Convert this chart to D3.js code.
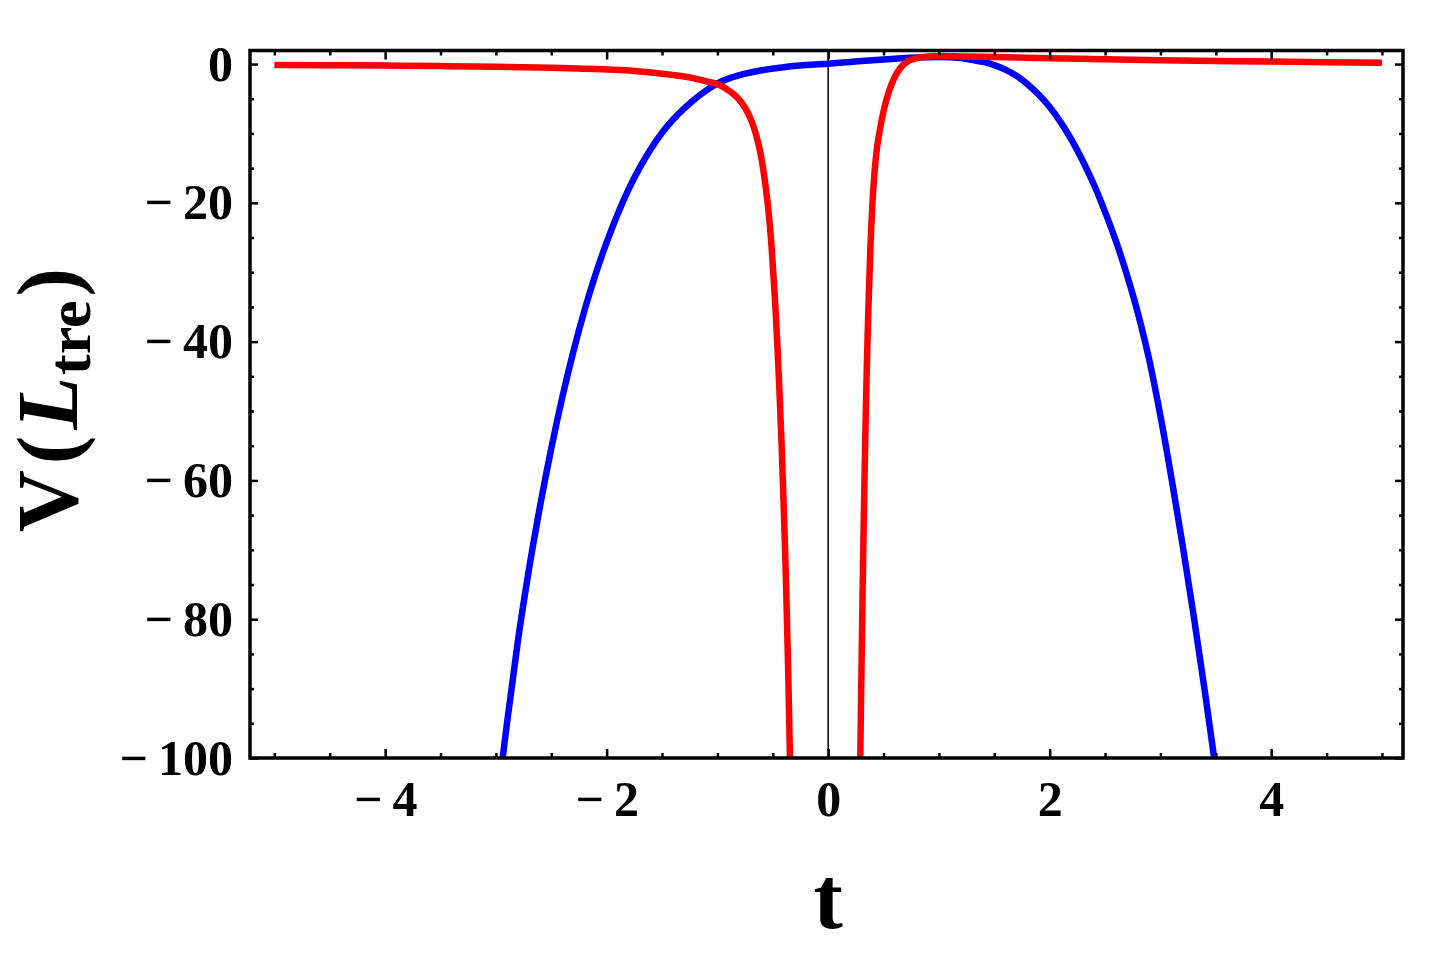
<!DOCTYPE html>
<html>
<head>
<meta charset="utf-8">
<script src="https://cdn.jsdelivr.net/npm/d3@7"></script>
<style>
  body { margin: 0; background: #fff; }
  svg text { font-family: "Liberation Serif", "Times New Roman", serif; font-weight: bold; }
</style>
</head>
<body>
<svg id="chart" width="1433" height="966"></svg>
<script>
document.addEventListener("DOMContentLoaded", function() {

    // Data
    const blueT = [-3.1, -3.0, -2.9, -2.8, -2.7, -2.6, -2.5, -2.4, -2.3, -2.2, -2.1, -2.0, -1.9, -1.8, -1.7, -1.6, -1.5, -1.4, -1.3, -1.2, -1.1, -1.0, -0.9, -0.8, -0.6, -0.4, -0.2,
                   0, 0.2, 0.4, 0.6, 0.8, 1.0, 1.2, 1.3, 1.4, 1.5, 1.6, 1.7, 1.8, 1.9, 2.0, 2.1, 2.2, 2.3, 2.4, 2.5, 2.6, 2.7, 2.8, 2.9, 3.0, 3.1, 3.2, 3.3, 3.4, 3.5, 3.6];
    const blueV = [-121, -108, -95, -83, -72.7, -63.6, -55.4, -48, -41.4, -35.5, -30.3, -25.7, -21.6, -18, -14.9, -12.2, -9.9, -8, -6.4, -5, -3.8, -2.8, -2.1, -1.6, -0.9, -0.45, -0.15,
                   0.05, 0.3, 0.55, 0.75, 0.95, 1.0, 0.85, 0.6, 0.3, -0.15, -0.8, -1.7, -2.9, -4.4, -6.2, -8.4, -11, -14, -17.4, -21.3, -25.6, -30.5, -36.1, -42.7, -50.7, -59.7, -69.3, -79.5, -90.3, -101.7, -114];

    // red curve has a gap at the singularity (null splits it)
    const redT = [-5.0, -4.5, -4.0, -3.5, -3.0, -2.5, -2.0, -1.75, -1.5, -1.3, -1.2, -1.1, -1.0, -0.95, -0.9, -0.85, -0.8, -0.75, -0.7, -0.65, -0.6, -0.57, -0.54, -0.51, -0.48, -0.46, -0.44, -0.42, -0.40, -0.38, -0.36, -0.345, -0.33,
                  null,
                  0.28, 0.29, 0.30, 0.31, 0.32, 0.33, 0.34, 0.35, 0.36, 0.38, 0.40, 0.42, 0.44, 0.47, 0.5, 0.55, 0.6, 0.65, 0.7, 0.8, 0.9, 1.0, 1.2, 1.5, 2.0, 2.5, 3.0, 3.5, 4.0, 4.5, 5.0];
    const redV = [-0.15, -0.18, -0.22, -0.3, -0.4, -0.55, -0.8, -1.0, -1.4, -1.8, -2.1, -2.5, -2.9, -3.3, -3.8, -4.4, -5.2, -6.3, -7.9, -10.2, -13.8, -17, -21, -26.5, -34, -40, -47, -55, -64.5, -75, -88, -100, -115,
                  null,
                  -112, -100, -88, -77, -67, -58, -50, -43, -37, -27, -20, -15.3, -12.2, -9.2, -6.8, -3.9, -1.9, -0.6, 0.2, 0.85, 1.1, 1.15, 1.1, 1.0, 0.85, 0.7, 0.55, 0.45, 0.35, 0.27, 0.2];

    const xMajor = [-4, -2, 0, 2, 4];
    const xMinor = d3.range(-5, 5.01, 0.5).filter(d => !xMajor.includes(d));
    const yMajor = [0, -20, -40, -60, -80, -100];
    const yMinor = d3.range(-95, 1, 5).filter(d => !yMajor.includes(d));

    // Scales
    const svg = d3.select("#chart");
    const x = d3.scaleLinear().domain([-5.22, 5.19]).range([250, 1403]);
    const y = d3.scaleLinear().domain([-100, 1.95]).range([758, 50.5]);

    const fmt = d => d < 0 ? "\u2212\u2009" + Math.abs(d) : String(d);

    svg.append("clipPath").attr("id", "plotClip")
        .append("rect")
        .attr("x", x.range()[0]).attr("y", y.range()[1])
        .attr("width", x.range()[1] - x.range()[0])
        .attr("height", y.range()[0] - y.range()[1]);

    // vertical axis line at t = 0
    svg.append("line")
        .attr("x1", x(0)).attr("x2", x(0))
        .attr("y1", y.range()[1]).attr("y2", y.range()[0])
        .attr("stroke", "#000").attr("stroke-width", 1.5);

    // Curves
    const line = d3.line()
        .defined(d => d[0] !== null)
        .x(d => x(d[0]))
        .y(d => y(d[1]))
        .curve(d3.curveMonotoneX);

    const plot = svg.append("g").attr("clip-path", "url(#plotClip)");
    plot.append("path")
        .datum(d3.zip(blueT, blueV))
        .attr("d", line)
        .attr("fill", "none").attr("stroke", "#0000ff").attr("stroke-width", 6.5);
    plot.append("path")
        .datum(d3.zip(redT, redV))
        .attr("d", line)
        .attr("fill", "none").attr("stroke", "#ff0000").attr("stroke-width", 6.5);

    // Axes (ticks point inward)
    function styleAxis(g) {
        g.select(".domain").remove();
        g.selectAll(".tick line").attr("stroke", "#000").attr("stroke-width", 2.5);
        g.selectAll(".tick text").attr("fill", "#000").style("font-size", "50px");
    }

    svg.append("g").attr("transform", `translate(0,${y.range()[0]})`)
        .call(d3.axisBottom(x).tickValues(xMajor).tickSize(-9).tickPadding(22).tickFormat(fmt))
        .call(styleAxis);
    svg.append("g").attr("transform", `translate(0,${y.range()[0]})`)
        .call(d3.axisBottom(x).tickValues(xMinor).tickSize(-5).tickFormat(""))
        .call(styleAxis);
    svg.append("g").attr("transform", `translate(0,${y.range()[1]})`)
        .call(d3.axisTop(x).tickValues(xMajor).tickSize(-9).tickFormat(""))
        .call(styleAxis);
    svg.append("g").attr("transform", `translate(0,${y.range()[1]})`)
        .call(d3.axisTop(x).tickValues(xMinor).tickSize(-5).tickFormat(""))
        .call(styleAxis);

    svg.append("g").attr("transform", `translate(${x.range()[0]},0)`)
        .call(d3.axisLeft(y).tickValues(yMajor).tickSize(-8).tickPadding(17).tickFormat(fmt))
        .call(styleAxis);
    svg.append("g").attr("transform", `translate(${x.range()[0]},0)`)
        .call(d3.axisLeft(y).tickValues(yMinor).tickSize(-4).tickFormat(""))
        .call(styleAxis);
    svg.append("g").attr("transform", `translate(${x.range()[1]},0)`)
        .call(d3.axisRight(y).tickValues(yMajor).tickSize(-8).tickFormat(""))
        .call(styleAxis);
    svg.append("g").attr("transform", `translate(${x.range()[1]},0)`)
        .call(d3.axisRight(y).tickValues(yMinor).tickSize(-4).tickFormat(""))
        .call(styleAxis);

    // Frame
    svg.append("rect")
        .attr("x", x.range()[0]).attr("y", y.range()[1])
        .attr("width", x.range()[1] - x.range()[0])
        .attr("height", y.range()[0] - y.range()[1])
        .attr("fill", "none").attr("stroke", "#000").attr("stroke-width", 3.5);

    // Axis titles
    svg.append("text")
        .attr("x", x(0)).attr("y", 928)
        .attr("text-anchor", "middle")
        .style("font-size", "88px")
        .text("t");

    const yTitle = svg.append("text")
        .attr("transform", "translate(77,400) rotate(-90)")
        .attr("text-anchor", "middle")
        .style("font-size", "86px");
    yTitle.append("tspan").text("V");
    yTitle.append("tspan").attr("dx", 6).text("(");
    yTitle.append("tspan").attr("dx", 6).style("font-style", "italic").text("L");
    yTitle.append("tspan").attr("dx", 2).attr("dy", 13).style("font-size", "62px").text("tre");
    yTitle.append("tspan").attr("dx", 4).attr("dy", -13).text(")");

});
</script>
</body>
</html>
